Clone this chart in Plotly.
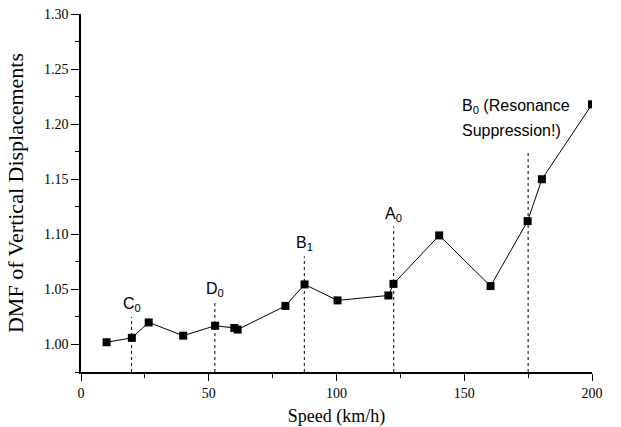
import plotly.graph_objects as go

# Data
speed = [10, 19.9, 26.5, 40, 52.5, 60, 61.3, 80, 87.5, 100.4, 120.3, 122.3, 140.2, 160.3, 174.8, 180.4, 200]
dmf = [1.002, 1.006, 1.020, 1.008, 1.017, 1.015, 1.0135, 1.035, 1.0545, 1.040, 1.0445, 1.055, 1.099, 1.053, 1.112, 1.150, 1.218]

ref_labels = ["C<sub>0</sub>", "D<sub>0</sub>", "B<sub>1</sub>", "A<sub>0</sub>", ""]
ref_x = [19.8, 52.4, 87.4, 122.4, 175]
ref_top = [1.025, 1.0385, 1.080, 1.107, 1.176]

b0_lines = ["B<sub>0</sub> (Resonance", "Suppression!)"]

x_ticks = [0, 50, 100, 150, 200]
y_ticks = [1.00, 1.05, 1.10, 1.15, 1.20, 1.25, 1.30]
x_range = [0, 200]
y_range = [0.975, 1.30]

fig = go.Figure()

# dotted reference lines
for xv, top in zip(ref_x, ref_top):
    fig.add_trace(go.Scatter(
        x=[xv, xv], y=[y_range[0], top], mode="lines",
        line=dict(color="black", width=1, dash="dot"),
        hoverinfo="skip", showlegend=False))

fig.add_trace(go.Scatter(
    x=speed, y=dmf, mode="lines+markers",
    line=dict(color="black", width=1),
    marker=dict(symbol="square", size=8, color="black"),
    cliponaxis=True,
    showlegend=False))

ann_font = dict(family="Liberation Sans, Arial, sans-serif", size=16, color="black")
for lab, xv, top in zip(ref_labels, ref_x, ref_top):
    if lab:
        fig.add_annotation(x=xv, y=top, text=lab, showarrow=False,
                           xanchor="center", yanchor="bottom", yshift=1,
                           font=ann_font)

fig.add_annotation(x=148.3, y=1.216, text=b0_lines[0], showarrow=False,
                   xanchor="left", yanchor="middle", font=ann_font)
fig.add_annotation(x=148.3, y=1.194, text=b0_lines[1], showarrow=False,
                   xanchor="left", yanchor="middle", font=ann_font)

serif = "Liberation Serif, Times New Roman, serif"
axis_font = dict(family=serif, size=14, color="black")

fig.update_layout(
    width=621, height=427,
    margin=dict(l=81, r=29, t=14, b=55),
    paper_bgcolor="white", plot_bgcolor="white",
    xaxis=dict(
        range=x_range, tickvals=x_ticks, ticks="outside", ticklen=7, tickwidth=1.2,
        tickcolor="black", showline=True, linecolor="black", linewidth=1.5,
        showgrid=False, zeroline=False, tickfont=axis_font, automargin=False,
        minor=dict(dtick=25, ticks="outside", ticklen=4, tickcolor="black", tickwidth=1.2, showgrid=False),
        title=dict(text="Speed (km/h)", font=dict(family=serif, size=18, color="black"), standoff=12),
    ),
    yaxis=dict(
        range=y_range, tickvals=y_ticks, tickformat=".2f", ticks="outside", ticklen=8, tickwidth=1.2,
        tickcolor="black", showline=True, linecolor="black", linewidth=1.5,
        showgrid=False, zeroline=False, tickfont=axis_font, automargin=False,
        minor=dict(dtick=0.025, tick0=1.0, ticks="outside", ticklen=4, tickcolor="black", tickwidth=1.2, showgrid=False),
        title=dict(text="DMF of Vertical Displacements", font=dict(family=serif, size=22, color="black"), standoff=14),
    ),
)

fig.write_html("out.html", config={"displayModeBar": False},
               post_script="document.body.style.margin='0';document.body.style.overflow='hidden';")
